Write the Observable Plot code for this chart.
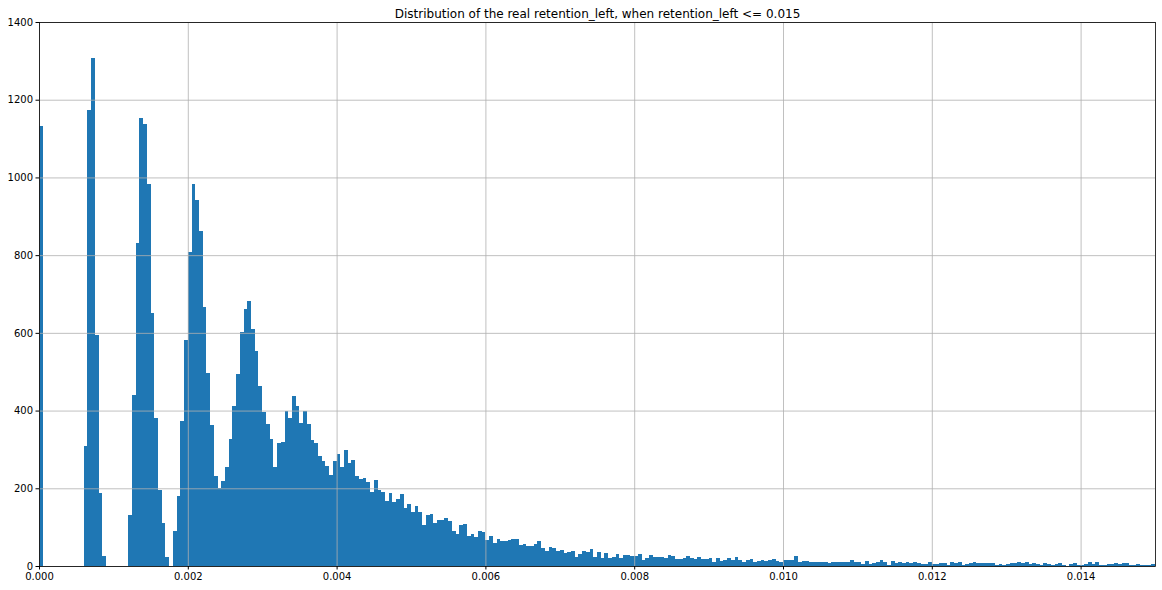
<!DOCTYPE html>
<html><head><meta charset="utf-8">
<script src="https://cdn.jsdelivr.net/npm/d3@7"></script>
<script src="https://cdn.jsdelivr.net/npm/@observablehq/plot@0.6"></script>
<style>body{margin:0;background:#fff;} svg{display:block}</style>
</head><body><div id="chart"></div>
<script>
const title = "Distribution of the real retention_left, when retention_left <= 0.015";
const binWidth = 0.00005;
const xDomain = [0, 0.015];
const yDomain = [0, 1400];
const xTicks = [0, 0.002, 0.004, 0.006, 0.008, 0.010, 0.012, 0.014];
const yTicks = [0, 200, 400, 600, 800, 1000, 1200, 1400];
const counts = [
  1132,0,0,0,0,0,0,0,0,0,
  0,0,309,1174,1308,595,188,26,0,0,
  0,0,0,0,130,440,832,1152,1138,982,
  652,380,195,110,23,0,91,179,373,582,
  809,982,942,861,667,497,362,231,200,218,
  256,328,412,494,603,662,682,610,554,463,
  396,365,326,255,316,319,399,381,437,411,
  368,399,365,324,316,283,270,257,234,270,
  288,255,298,265,273,231,224,226,216,190,
  221,196,190,167,188,165,172,185,149,160,
  139,154,139,106,131,134,111,118,118,124,
  116,90,82,106,108,77,82,75,90,88,
  67,77,59,69,64,64,67,69,69,54,
  57,51,51,57,64,46,39,49,46,39,
  41,33,36,39,23,31,39,36,44,23,
  36,21,33,21,23,31,21,28,28,26,
  26,31,15,21,28,23,23,23,21,28,
  26,18,18,21,26,21,18,23,18,18,
  21,10,21,13,15,21,15,23,15,10,
  15,18,10,13,15,13,15,18,13,10,
  15,15,15,26,10,13,13,10,10,10,
  10,10,8,10,10,10,10,10,15,10,
  10,5,13,5,8,10,15,10,3,13,
  8,10,8,10,8,10,8,5,5,10,
  5,5,8,8,3,10,8,10,3,5,
  8,10,8,8,8,8,8,3,5,3,
  5,8,8,10,8,10,5,8,5,3,
  8,5,3,5,8,3,0,5,8,3,
  3,5,10,5,10,3,3,5,5,8,
  5,8,8,3,3,5,3,3,3,5
];
const bins = counts.map((c, i) => ({x1: i * binWidth, x2: (i + 1) * binWidth, count: c}));
const chart = Plot.plot({
  width: 1162, height: 590,
  marginLeft: 39, marginRight: 7, marginTop: 22, marginBottom: 24,
  style: {fontFamily: "DejaVu Sans", fontSize: "10px", background: "#fff", color: "#000"},
  x: {domain: xDomain},
  y: {domain: yDomain},
  marks: [
    Plot.rectY(bins.filter(d => d.count > 0), {x1: "x1", x2: "x2", y: "count", fill: "#1f77b4", stroke: "#1f77b4", strokeWidth: 1, inset: 0.5, shapeRendering: "crispEdges"}),
    Plot.gridX(xTicks, {stroke: "#b0b0b0", strokeOpacity: 1, strokeWidth: 0.8}),
    Plot.gridY(yTicks, {stroke: "#b0b0b0", strokeOpacity: 1, strokeWidth: 0.8}),
    Plot.axisX(xTicks, {tickSize: 3.5, tickPadding: 3, tickFormat: d3.format(".3f"), label: null, fontSize: 10}),
    Plot.axisY(yTicks, {tickSize: 3.5, tickPadding: 3, tickFormat: d3.format("d"), label: null, fontSize: 10}),
    Plot.frame({stroke: "#000", strokeWidth: 0.8}),
    Plot.text([title], {frameAnchor: "top", lineAnchor: "bottom", dy: -5, fontSize: 12, fill: "#000"})
  ]
});
document.getElementById("chart").appendChild(chart);
</script>
</body></html>
